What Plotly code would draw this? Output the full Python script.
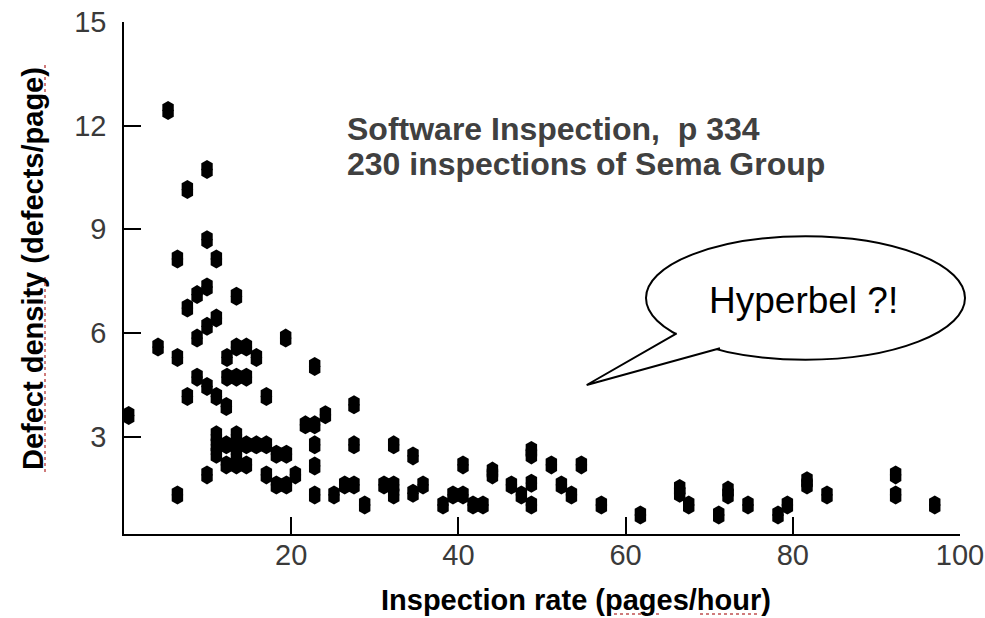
import plotly.graph_objects as go

# Inspection rate (pages/hour) for each inspection
rate = [
    0.56, 4.07, 5.27, 6.39, 6.39, 6.39, 7.58, 7.58, 7.58, 8.74, 8.74, 8.74,
    9.93, 9.93, 9.93, 9.93, 9.93, 9.93, 11.05, 11.05, 11.05, 11.05, 11.05, 11.05,
    12.24, 12.24, 12.24, 12.32, 12.32, 13.45, 13.45, 13.45, 13.45, 13.45, 13.45, 13.45,
    14.64, 14.64, 14.64, 14.64, 15.84, 15.84, 17.03, 17.03, 17.03, 18.23, 18.23,
    19.34, 19.43, 19.43, 20.5,
    21.7, 22.81, 22.81, 22.81, 22.81, 22.81, 24.09, 25.12, 26.4, 27.51, 27.51, 27.51,
    28.79, 31.1, 32.26, 32.26, 32.26, 34.57, 34.57, 35.77, 38.16, 39.35,
    40.55, 40.55, 41.75, 42.94, 44.07, 44.07, 46.34, 47.53, 48.73, 48.73, 48.73, 48.73,
    51.12, 52.32, 53.52, 54.71, 57.1, 61.77, 66.47, 66.47, 67.55, 71.14, 72.25, 72.25,
    74.64, 78.23, 79.35, 81.7, 81.7, 84.09, 92.3, 92.3, 96.98,
]

# Defect density (defects/page) for each inspection
density = [
    3.61, 5.59, 12.44, 8.14, 5.29, 1.31, 10.15, 6.72, 4.16, 7.11, 5.85, 4.72,
    10.73, 8.70, 7.33, 6.19, 4.45, 1.89, 8.14, 6.43, 4.16, 3.05, 2.76, 2.49,
    3.87, 2.76, 2.18, 5.29, 4.72, 7.06, 5.59, 4.72, 3.05, 2.76, 2.49, 2.18,
    5.59, 4.72, 2.76, 2.18, 5.29, 2.76, 4.16, 2.76, 1.89, 2.49, 1.60,
    5.85, 2.49, 1.60, 1.89,
    3.34, 5.03, 3.34, 2.76, 2.15, 1.31, 3.63, 1.31, 1.60, 3.92, 2.76, 1.60,
    1.02, 1.60, 2.76, 1.60, 1.31, 2.44, 1.36, 1.60, 1.02, 1.31,
    2.18, 1.31, 1.02, 1.02, 1.89, 2.00, 1.60, 1.31, 2.47, 2.60, 1.65, 1.02,
    2.18, 1.60, 1.31, 2.18, 1.02, 0.73, 1.36, 1.50, 1.02, 0.73, 1.31, 1.45,
    1.02, 0.73, 1.02, 1.60, 1.72, 1.31, 1.89, 1.31, 1.02,
]

x_ticks = [20, 40, 60, 80, 100]
y_ticks = [3, 6, 9, 12, 15]

title_lines = ["Software Inspection,\u00a0\u00a0p 334", "230 inspections of Sema Group"]
bubble_text = "Hyperbel ?!"
x_title = "Inspection rate (pages/hour)"
y_title = "Defect density (defects/page)"

W, H = 985, 618
ML, MR, MT, MB = 124, 25, 22, 84
PW, PH = W - ML - MR, H - MT - MB

FONT = "Liberation Sans, Arial, Helvetica, sans-serif"


def px(p):
    return (p - ML) / PW


def py(p):
    return (H - MB - p) / PH


fig = go.Figure()

# Tall hexagonal dots: two hexagons nudged up and down by a few pixels
for ang in (0, 180):
    fig.add_trace(go.Scatter(
        x=rate, y=density, mode="markers", cliponaxis=False, showlegend=False,
        marker=dict(symbol="hexagon", size=13.2, angle=ang, standoff=2.9,
                    color="black", line=dict(width=0)),
        hoverinfo="x+y",
    ))

axis_common = dict(
    showline=True, linecolor="black", linewidth=1.5, mirror=False,
    ticks="inside", ticklen=17, tickwidth=1.5, tickcolor="black",
    showgrid=False, zeroline=False,
    tickfont=dict(family=FONT, size=29, color="#3a3a3a"),
)

fig.update_layout(
    width=W, height=H, autosize=False,
    margin=dict(l=ML, r=MR, t=MT, b=MB, autoexpand=False),
    paper_bgcolor="white", plot_bgcolor="white",
    xaxis=dict(range=[0, 100], tickvals=x_ticks, ticklabelstandoff=-6, **axis_common),
    yaxis=dict(range=[0.18, 15], tickvals=y_ticks, ticklabelstandoff=10, **axis_common),
)

# Speech bubble
cx, cy, rx, ry = 805.5, 298, 159.5, 61.7
a_pt, tip, b_pt = (676.7, 333.3), (586.7, 385), (720, 348.3)
fig.add_shape(type="circle", xref="paper", yref="paper",
              x0=px(cx - rx), x1=px(cx + rx), y0=py(cy + ry), y1=py(cy - ry),
              line=dict(color="black", width=2), fillcolor="white", layer="above")
fill_path = "M {} {} L {} {} L {} {} L {} {} L {} {} Z".format(
    px(a_pt[0]), py(a_pt[1]), px(tip[0]), py(tip[1]), px(b_pt[0]), py(b_pt[1]),
    px(716), py(338), px(690), py(326))
fig.add_shape(type="path", xref="paper", yref="paper", path=fill_path,
              fillcolor="white", line=dict(width=0), layer="above")
edge_path = "M {} {} L {} {} L {} {}".format(
    px(a_pt[0]), py(a_pt[1]), px(tip[0]), py(tip[1]), px(b_pt[0]), py(b_pt[1]))
fig.add_shape(type="path", xref="paper", yref="paper", path=edge_path,
              fillcolor="rgba(0,0,0,0)", line=dict(color="black", width=2), layer="above")

fig.add_annotation(text=bubble_text, xref="paper", yref="paper",
                   x=px(803), y=py(300), xanchor="center", yanchor="middle",
                   showarrow=False, font=dict(family=FONT, size=37, color="black"))

# Source note
for i, line in enumerate(title_lines):
    fig.add_annotation(text="<b>%s</b>" % line, xref="paper", yref="paper",
                       x=px(345), y=py(129 + 35 * i), xanchor="left", yanchor="middle",
                       showarrow=False, font=dict(family=FONT, size=32, color="#404040"))

# Axis titles
fig.add_annotation(text="<b>%s</b>" % x_title, xref="paper", yref="paper",
                   x=px(576), y=py(600), xanchor="center", yanchor="middle",
                   showarrow=False, font=dict(family=FONT, size=29, color="black"))
fig.add_annotation(text="<b>%s</b>" % y_title, xref="paper", yref="paper",
                   x=px(33), y=py(269), xanchor="center", yanchor="middle", textangle=-90,
                   showarrow=False, font=dict(family=FONT, size=29, color="black"))

# Spell-check squiggles under the axis titles
squiggle = dict(color="#c05050", width=1.5, dash="dot")
for (x0, y0, x1, y1) in [(45, 277, 45, 473), (45, 65, 45, 100),
                         (608, 614, 662, 614), (700, 614, 760, 614)]:
    fig.add_shape(type="line", xref="paper", yref="paper",
                  x0=px(x0), y0=py(y0), x1=px(x1), y1=py(y1), line=squiggle)

fig.write_html("out.html")
